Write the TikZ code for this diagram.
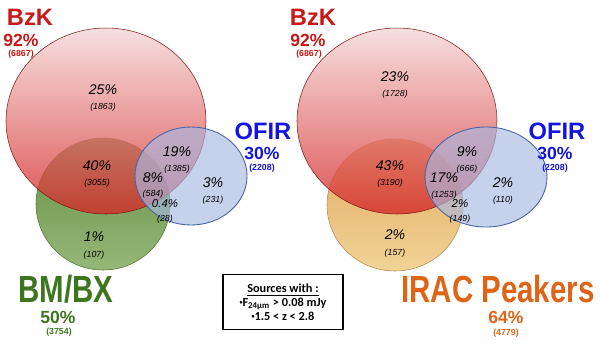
\documentclass[tikz,border=0pt]{standalone}
\usepackage{fontspec}
\setmainfont{Liberation Sans}
\newfontfamily\boxfont{Carlito}
\usetikzlibrary{positioning}
\definecolor{bzktext}{RGB}{200,24,24}
\definecolor{ofirtext}{RGB}{20,20,225}
\definecolor{bmtext}{RGB}{62,118,32}
\definecolor{iractext}{RGB}{222,100,24}
\definecolor{bzktop}{RGB}{244,214,214}
\definecolor{bzkbot}{RGB}{212,36,36}
\definecolor{ofirfill}{RGB}{168,184,226}
\definecolor{ofirline}{RGB}{70,100,165}
\definecolor{bmtop}{RGB}{100,140,66}
\definecolor{bmbot}{RGB}{150,184,120}
\definecolor{iractop}{RGB}{226,168,96}
\definecolor{iracbot}{RGB}{240,212,150}
\newcommand{\narrow}[1]{\scalebox{0.78}[1]{#1}}
\newcommand{\dotitem}{\raisebox{0.35ex}{\fontsize{3.5}{4}\selectfont•}}

\begin{document}
\begin{tikzpicture}[x=0.02cm,y=-0.02cm,
    setname/.style={font=\fontsize{13.5}{14}\selectfont\bfseries,inner sep=0pt},
    bigname/.style={font=\fontsize{21.5}{22}\selectfont\bfseries,inner sep=0pt},
    share/.style={font=\fontsize{10}{10}\selectfont\bfseries,inner sep=0pt},
    total/.style={font=\fontsize{5}{5}\selectfont\bfseries,inner sep=0pt},
    pct/.style={font=\fontsize{8}{8}\selectfont\itshape,inner sep=0pt},
    small pct/.style={font=\fontsize{6.5}{7}\selectfont\itshape,inner sep=0pt},
    num/.style={font=\fontsize{5}{5}\selectfont\itshape,inner sep=0pt}]
  \useasboundingbox (0,0) rectangle (600,343);
  % left diagram
  \shade[top color=bmtop,bottom color=bmbot,draw=bmtop!80!black,line width=0.3pt]
    (103,204) ellipse [x radius=67, y radius=66];
  \shade[top color=bzktop,bottom color=bzkbot,fill opacity=0.78,draw=bzkbot!60!black,line width=0.3pt]
    (106,121) ellipse [x radius=100, y radius=93];
  \fill[ofirfill,fill opacity=0.65] (191,176) ellipse [x radius=56, y radius=49];
  \draw[ofirline,line width=0.5pt] (191,176) ellipse [x radius=56, y radius=49];
  % right diagram
  \shade[top color=iractop,bottom color=iracbot,draw=iractop!80!black,line width=0.3pt]
    (395,205) ellipse [x radius=68, y radius=66];
  \shade[top color=bzktop,bottom color=bzkbot,fill opacity=0.78,draw=bzkbot!60!black,line width=0.3pt]
    (397,121) ellipse [x radius=100, y radius=93];
  \fill[ofirfill,fill opacity=0.65] (486,177) ellipse [x radius=61, y radius=50];
  \draw[ofirline,line width=0.5pt] (486,177) ellipse [x radius=61, y radius=50];

  % set labels, left
  \node[setname,text=bzktext] (lbzk) at (30,17) {BzK};
  \node[share,text=bzktext] (lbzkp) at (21,40) {92\%};
  \node[total,text=bzktext] (lbzkn) at (21,54) {(6867)};
  \node[setname,text=ofirtext] (lofir) at (263,131) {OFIR};
  \node[share,text=ofirtext] (lofirp) at (262,153) {30\%};
  \node[total,text=ofirtext] (lofirn) at (262,168) {(2208)};
  \node[bigname,text=bmtext] (lbm) at (66,289) {\narrow{BM/BX}};
  \node[share,text=bmtext] (lbmp) at (58,317) {50\%};
  \node[total,text=bmtext] (lbmn) at (59,332) {(3754)};
  % set labels, right
  \node[setname,text=bzktext] (rbzk) at (313,17) {BzK};
  \node[share,text=bzktext] (rbzkp) at (308,40) {92\%};
  \node[total,text=bzktext] (rbzkn) at (309,54) {(6867)};
  \node[setname,text=ofirtext] (rofir) at (557,131) {OFIR};
  \node[share,text=ofirtext] (rofirp) at (555,153) {30\%};
  \node[total,text=ofirtext] (rofirn) at (555,168) {(2208)};
  \node[bigname,text=iractext] (rirac) at (498,289) {\narrow{IRAC Peakers}};
  \node[share,text=iractext] (riracp) at (506,317) {64\%};
  \node[total,text=iractext] (riracn) at (506,333) {(4779)};

  % regions, left
  \node[pct] (la) at (103,90) {25\%};
  \node[num,below=7pt of la.center] {(1863)};
  \node[pct] (lb) at (97,166) {40\%};
  \node[num,below=7pt of lb.center] {(3055)};
  \node[pct] (lc) at (177,152) {19\%};
  \node[num,below=7pt of lc.center] {(1385)};
  \node[pct] (ld) at (153,178) {8\%};
  \node[num,below=6.5pt of ld.center] {(584)};
  \node[pct] (le) at (213,183) {3\%};
  \node[num,below=7pt of le.center] {(231)};
  \node[small pct] (lf) at (165,204) {0.4\%};
  \node[num,below=6pt of lf.center] {(28)};
  \node[pct] (lg) at (94,237) {1\%};
  \node[num,below=8pt of lg.center] {(107)};
  % regions, right
  \node[pct] (ra) at (395,77) {23\%};
  \node[num,below=7pt of ra.center] {(1728)};
  \node[pct] (rb) at (390,166) {43\%};
  \node[num,below=7pt of rb.center] {(3190)};
  \node[pct] (rc) at (467,152) {9\%};
  \node[num,below=7pt of rc.center] {(666)};
  \node[pct] (rd) at (444,178) {17\%};
  \node[num,below=7pt of rd.center] {(1253)};
  \node[pct] (re) at (503,183) {2\%};
  \node[num,below=7pt of re.center] {(110)};
  \node[small pct] (rf) at (460,204) {2\%};
  \node[num,below=6pt of rf.center] {(149)};
  \node[pct] (rg) at (395,235) {2\%};
  \node[num,below=8pt of rg.center] {(157)};

  % selection box
  \node[draw,line width=1.1pt,minimum width=2.4cm,minimum height=1.1cm,align=center,
        font=\boxfont\fontsize{7}{7.9}\selectfont\bfseries] (crit) at (283,302)
    {\underline{Sources with :}\\ \dotitem F\textsubscript{24µm} > 0.08 mJy\\ \dotitem1.5 < z < 2.8};
\end{tikzpicture}
\end{document}
